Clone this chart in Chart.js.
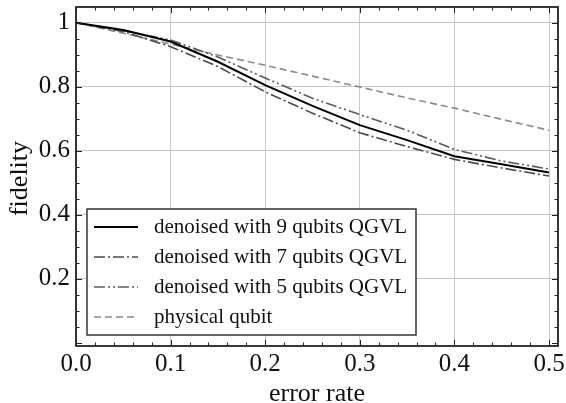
<!DOCTYPE html>
<html>
<head>
<meta charset="utf-8">
<script src="https://cdn.jsdelivr.net/npm/chart.js@4.4.0/dist/chart.umd.min.js"></script>
<style>
  html, body { margin: 0; padding: 0; background: #fff; }
  #wrap { width: 566px; height: 403px; }
</style>
</head>
<body>
<div id="wrap"><canvas id="chart" width="566" height="403"></canvas></div>
<script>
// values
const errorRate = [0, 0.05, 0.1, 0.15, 0.2, 0.25, 0.3, 0.35, 0.4, 0.45, 0.5];
const qgvl9 = [1, 0.977, 0.941, 0.878, 0.805, 0.740, 0.680, 0.633, 0.583, 0.558, 0.532];
const qgvl7 = [1, 0.972, 0.925, 0.863, 0.784, 0.717, 0.656, 0.613, 0.573, 0.546, 0.521];
const qgvl5 = [1, 0.975, 0.946, 0.893, 0.827, 0.764, 0.713, 0.664, 0.604, 0.568, 0.543];
const physical = [1, 0.967, 0.933, 0.899, 0.867, 0.833, 0.799, 0.765, 0.733, 0.698, 0.664];
const seriesNames = ['denoised with 9 qubits QGVL', 'denoised with 7 qubits QGVL', 'denoised with 5 qubits QGVL', 'physical qubit'];
const xTicks = [0, 0.1, 0.2, 0.3, 0.4, 0.5];
const yTicks = [0.2, 0.4, 0.6, 0.8, 1];
const xTitle = 'error rate';
const yTitle = 'fidelity';

const serif = "'Liberation Serif', 'DejaVu Serif', serif";

function pts(ys) {
  return errorRate.map((x, i) => ({ x: x, y: ys[i] }));
}

// frame + inward ticks on all four sides, axis titles
const framePlugin = {
  id: 'frame',
  afterDatasetsDraw(chart) {
    const ctx = chart.ctx, a = chart.chartArea;
    const xs = chart.scales.x, ys = chart.scales.y;
    ctx.save();
    ctx.strokeStyle = '#222';
    ctx.lineWidth = 1;
    ctx.beginPath();
    for (let v = 0; v <= 0.5001; v += 0.02) {
      const px = Math.round(xs.getPixelForValue(v)) + 0.5;
      const major = Math.abs(v * 10 - Math.round(v * 10)) < 1e-6;
      const len = major ? 6 : 3.5;
      ctx.moveTo(px, a.bottom); ctx.lineTo(px, a.bottom - len);
      ctx.moveTo(px, a.top); ctx.lineTo(px, a.top + len);
    }
    for (let v = 0; v <= 1.0001; v += 0.05) {
      const py = Math.round(ys.getPixelForValue(v)) + 0.5;
      const major = Math.abs(v * 5 - Math.round(v * 5)) < 1e-6;
      const len = major ? 6 : 3.5;
      ctx.moveTo(a.left, py); ctx.lineTo(a.left + len, py);
      ctx.moveTo(a.right, py); ctx.lineTo(a.right - len, py);
    }
    ctx.stroke();
    ctx.lineWidth = 1.8;
    ctx.strokeRect(a.left, a.top, a.right - a.left, a.bottom - a.top);

    ctx.fillStyle = '#111';
    ctx.font = '26px ' + serif;
    ctx.textAlign = 'center';
    ctx.textBaseline = 'alphabetic';
    ctx.fillText(xTitle, (a.left + a.right) / 2, 401);
    ctx.translate(20, (a.top + a.bottom) / 2 + 2);
    ctx.rotate(-Math.PI / 2);
    ctx.textBaseline = 'middle';
    ctx.fillText(yTitle, 0, 0);
    ctx.restore();
  }
};

// boxed legend drawn inside the plot, lower left
const legendPlugin = {
  id: 'boxLegend',
  afterDraw(chart) {
    const ctx = chart.ctx;
    const bx = 87, by = 209, bw = 329, bh = 126;
    ctx.save();
    ctx.fillStyle = '#fff';
    ctx.fillRect(bx, by, bw, bh);
    ctx.strokeStyle = '#333';
    ctx.lineWidth = 1.5;
    ctx.strokeRect(bx, by, bw, bh);
    ctx.font = '21px ' + serif;
    ctx.textBaseline = 'middle';
    chart.data.datasets.forEach((ds, i) => {
      const y = 227 + i * 30;
      ctx.strokeStyle = ds.borderColor;
      ctx.lineWidth = ds.borderWidth;
      ctx.setLineDash(ds.borderDash || []);
      ctx.beginPath();
      ctx.moveTo(94, y); ctx.lineTo(138, y);
      ctx.stroke();
      ctx.setLineDash([]);
      ctx.fillStyle = '#111';
      ctx.fillText(ds.label, 154, y);
    });
    ctx.restore();
  }
};

new Chart(document.getElementById('chart'), {
  type: 'line',
  data: {
    datasets: [
      { label: seriesNames[0], data: pts(qgvl9), borderColor: '#000', borderWidth: 2, borderDash: [] },
      { label: seriesNames[1], data: pts(qgvl7), borderColor: '#4a4a4a', borderWidth: 1.6, borderDash: [11, 3, 2, 3] },
      { label: seriesNames[2], data: pts(qgvl5), borderColor: '#5a5a5a', borderWidth: 1.6, borderDash: [11, 3, 2, 3, 2, 3] },
      { label: seriesNames[3], data: pts(physical), borderColor: '#8a8a8a', borderWidth: 1.6, borderDash: [7, 4] }
    ]
  },
  options: {
    responsive: false,
    animation: false,
    events: [],
    elements: { point: { radius: 0 }, line: { tension: 0, fill: false } },
    layout: { padding: { top: 7, right: 8, left: 0, bottom: 0 } },
    plugins: { legend: { display: false }, tooltip: { enabled: false } },
    scales: {
      x: {
        type: 'linear',
        min: 0,
        max: 0.5095,
        afterFit(s) { s.height = 57; s.paddingLeft = 0; s.paddingRight = 0; },
        afterBuildTicks(s) { s.ticks = xTicks.map(v => ({ value: v })); },
        grid: { color: '#c8c8c8', lineWidth: 1, drawTicks: false },
        border: { display: false },
        ticks: {
          padding: 3,
          color: '#111',
          font: { family: serif, size: 25 },
          maxRotation: 0,
          callback: v => v.toFixed(1)
        }
      },
      y: {
        min: -0.01,
        max: 1.049,
        afterFit(s) { s.width = 76; s.paddingTop = 0; s.paddingBottom = 0; },
        afterBuildTicks(s) { s.ticks = yTicks.map(v => ({ value: v })); },
        grid: { color: '#c8c8c8', lineWidth: 1, drawTicks: false },
        border: { display: false },
        ticks: {
          padding: 6,
          color: '#111',
          font: { family: serif, size: 25 },
          callback: v => (v === 1 ? '1' : v.toFixed(1))
        }
      }
    }
  },
  plugins: [framePlugin, legendPlugin]
});
</script>
</body>
</html>
